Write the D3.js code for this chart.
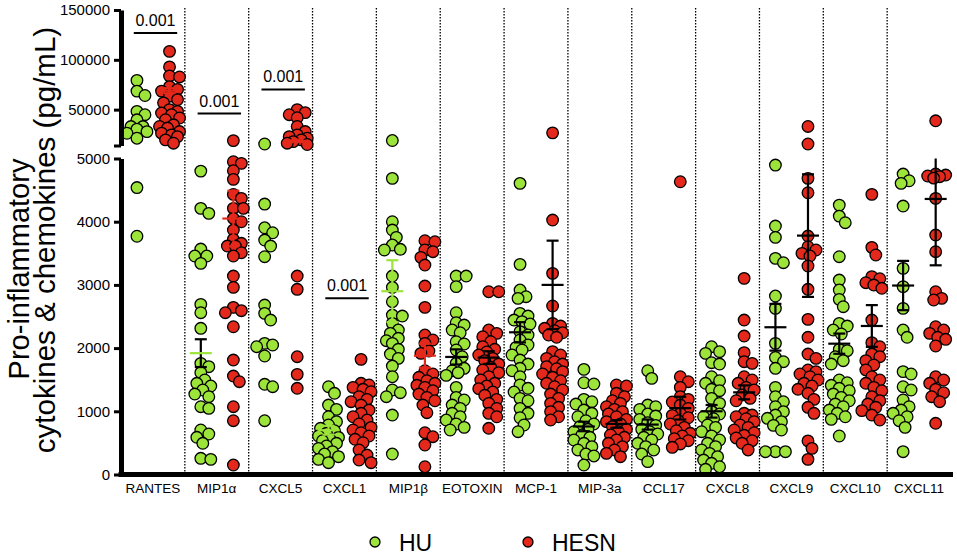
<!DOCTYPE html>
<html>
<head>
<meta charset="utf-8">
<script src="https://cdn.jsdelivr.net/npm/d3@7"></script>
<style>
  body { margin: 0; background: #fff; }
  text { font-family: "Liberation Sans", Arial, sans-serif; fill: #000; }
</style>
</head>
<body>
<div id="chart"></div>
<script>
// cytokine panels, left to right
const cytokines = ["RANTES", "MIP1α", "CXCL5", "CXCL1", "MIP1β", "EOTOXIN", "MCP-1",
                   "MIP-3a", "CCL17", "CXCL8", "CXCL9", "CXCL10", "CXCL11"];

// HU group, pg/mL
const huValues = [
  [79400, 68600, 64200, 48300, 44900, 39800, 33000, 33000, 30400, 27900, 26300, 21300, 4540, 3770],
  [4801, 4211, 4132, 3567, 3457, 3457, 3341, 2692, 2560, 2313, 1759, 1706, 1611, 1495, 1443, 1400, 1337, 1273, 1231, 1073, 1047, 704, 641, 589, 494, 240, 256],
  [15500, 4279, 3904, 3825, 3710, 3615, 3446, 2681, 2550, 2444, 2075, 2049, 2022, 1875, 1427, 1389, 851],
  [1389, 1285, 1099, 1031, 914, 836, 783, 731, 693, 652, 609, 589, 546, 535, 494, 451, 414, 361, 324, 282, 240, 187],
  [19000, 4686, 3999, 3868, 3752, 3631, 3563, 3552, 3140, 2961, 2734, 2523, 2507, 2392, 2286, 2233, 2155, 2117, 2075, 1981, 1906, 1838, 1716, 1547, 1337, 1294, 1231, 941, 324],
  [3140, 3140, 2972, 2560, 2402, 2365, 2286, 2243, 2101, 2065, 1970, 1864, 1759, 1680, 1642, 1611, 1569, 1379, 1221, 1179, 1099, 1047, 968, 914, 862, 799, 746, 704],
  [4607, 3325, 2919, 2813, 2787, 2550, 2507, 2444, 2418, 2381, 2260, 2207, 2128, 2049, 2012, 1970, 1891, 1811, 1748, 1680, 1642, 1547, 1416, 1364, 1305, 1205, 1167, 1047, 968, 898, 783, 677],
  [1663, 1452, 1432, 1189, 1152, 1115, 1020, 968, 914, 851, 799, 757, 715, 677, 625, 589, 546, 494, 441, 388, 324, 293, 150],
  [1642, 1521, 1099, 1073, 1031, 957, 925, 873, 820, 778, 715, 677, 641, 589, 546, 494, 441, 388, 324, 203],
  [2022, 1944, 1917, 1769, 1748, 1547, 1484, 1443, 1348, 1326, 1205, 1126, 994, 957, 914, 883, 783, 746, 677, 609, 546, 494, 441, 388, 335, 282, 229, 177, 123, 82],
  [4896, 3931, 3752, 3420, 3351, 2824, 2629, 2075, 1854, 1785, 1680, 1379, 1231, 1152, 1073, 994, 941, 889, 836, 778, 704, 361, 361, 361],
  [4263, 4089, 3984, 3446, 3077, 2919, 2771, 2655, 2392, 2349, 2286, 2223, 1981, 1959, 1864, 1801, 1748, 1495, 1452, 1411, 1364, 1326, 1273, 1221, 1167, 1115, 1073, 1020, 968, 914, 873, 609],
  [4754, 4648, 4607, 4248, 3262, 2972, 2629, 2286, 2171, 1627, 1590, 1389, 1337, 1179, 1073, 1020, 968, 914, 851, 746, 361]
];

// HESN group, pg/mL
const hesnValues = [
  [108500, 92900, 83800, 82800, 73100, 70300, 68600, 63500, 60100, 56800, 50000, 48300, 46600, 44900, 41600, 39900, 34800, 33100, 31500, 28000, 26400, 24700, 22900, 19600, 16300],
  [18900, 4949, 4923, 4806, 4670, 4432, 4369, 4211, 4211, 4053, 3999, 3868, 3721, 3658, 3615, 3615, 3509, 3457, 3140, 2961, 2645, 2592, 2560, 2338, 1811, 1558, 1468, 1073, 851, 150],
  [50000, 47000, 44900, 41900, 33100, 28000, 24700, 22900, 21300, 19600, 17900, 16300, 15000, 3140, 2930, 1864, 1585, 1364],
  [1822, 1443, 1416, 1379, 1348, 1310, 1231, 1189, 1152, 1099, 1020, 968, 914, 862, 799, 746, 704, 661, 609, 557, 503, 388, 308, 229, 187],
  [3699, 3683, 3552, 3525, 3436, 3314, 2982, 2645, 2207, 2128, 2075, 1954, 1917, 1642, 1590, 1538, 1484, 1443, 1411, 1379, 1326, 1273, 1221, 1167, 1099, 978, 661, 598, 467, 123],
  [2892, 2892, 2286, 2233, 2180, 2101, 2022, 1981, 1939, 1891, 1838, 1801, 1748, 1696, 1654, 1611, 1547, 1495, 1443, 1400, 1358, 1305, 1253, 1189, 1126, 1047, 968, 914, 731],
  [26700, 4026, 3183, 2666, 2392, 2349, 2313, 2275, 2243, 2207, 2171, 1944, 1891, 1838, 1785, 1748, 1706, 1674, 1627, 1590, 1538, 1484, 1443, 1389, 1337, 1273, 1205, 1126, 1063, 994, 914, 862],
  [1416, 1400, 1285, 1231, 1167, 1126, 1073, 1031, 994, 957, 914, 873, 836, 799, 757, 715, 677, 625, 589, 546, 494, 441, 388, 335, 282],
  [4632, 1547, 1468, 1379, 1231, 1189, 1147, 1099, 1047, 968, 936, 898, 851, 799, 746, 693, 652, 609, 567, 535, 483, 430],
  [3104, 2444, 2191, 1928, 1785, 1759, 1547, 1495, 1443, 1379, 1337, 1258, 1205, 1167, 968, 941, 914, 883, 836, 783, 746, 704, 661, 620, 578, 535, 494, 388],
  [33100, 15500, 4686, 4458, 3773, 3604, 3552, 3499, 3457, 3299, 2930, 2455, 2171, 1906, 1838, 1654, 1627, 1590, 1547, 1495, 1443, 1400, 1348, 1285, 1189, 1063, 968, 532, 414, 240],
  [4433, 3594, 3473, 3130, 3098, 3035, 2998, 2946, 2444, 2086, 2022, 1906, 1864, 1801, 1733, 1654, 1547, 1495, 1443, 1379, 1326, 1231, 1167, 1115, 1063, 1010, 941, 862],
  [38800, 4754, 4738, 4723, 4712, 4690, 4369, 3789, 3525, 2892, 2787, 2761, 2338, 2286, 2233, 2171, 2139, 2033, 1547, 1495, 1443, 1348, 1294, 1231, 1152, 810]
];

// mean and SEM per panel (null where the figure shows none)
const huMean   = [null, 1920, null, 700, 2900, 1860, 2250, 760, 790, 1000, 2330, 2070, 2990];
const huSem    = [null, 220, null, 70, 490, 120, 160, 75, 80, 100, 370, 160, 390];
const hesnMean = [69000, 4050, 18600, null, 1880, 1850, 3000, 800, 1050, 1300, 3780, 2350, 4360];
const hesnSem  = [2500, 440, 1200, null, 190, 100, 700, 60, 180, 110, 970, 330, 1050];

// p-value annotations
const sigPanels = ["RANTES", "MIP1α", "CXCL5", "CXCL1"];
const sigLabels = ["0.001", "0.001", "0.001", "0.001"];
const sigLevels = [127000, 46000, 70300, 2790];

const lowTicks = [0, 1000, 2000, 3000, 4000, 5000];
const highTicks = [14000, 50000, 100000, 150000];

const groups = ["HU", "HESN"];
const colors = { HU: "#9de43a", HESN: "#e4281b" };

const W = 957, H = 555, r = 5.8;

const svg = d3.select("#chart").append("svg")
  .attr("width", W).attr("height", H);

const x = d3.scaleBand().domain(cytokines).range([121, 951]);
const bw = x.bandwidth();

// broken y axis: two linear pieces
const yLow = d3.scaleLinear().domain([0, 5000]).range([474.5, 158.5]);
const yHigh = d3.scaleLinear().domain([14000, 150000]).range([145.5, 10]);
const y = v => v > 5000 ? yHigh(Math.max(v, 14000)) : yLow(v);

// dotted separators
svg.append("g").selectAll("line")
  .data(cytokines.slice(1))
  .join("line")
    .attr("x1", d => x(d)).attr("x2", d => x(d))
    .attr("y1", 8).attr("y2", 472)
    .attr("stroke", "#000")
    .attr("stroke-width", 1.3)
    .attr("stroke-dasharray", "1.4,1.6");

// compact beeswarm, dots may overlap a little like the original
function swarm(values, cx) {
  const pts = values.map(v => ({ v, y: y(v) })).sort((a, b) => a.y - b.y);
  const placed = [];
  const minD = 2 * r - 3.5, step = 2, maxOff = 10;
  const offs = [0];
  for (let k = step; k <= maxOff; k += step) offs.push(k, -k);
  pts.forEach(p => {
    let best = null, bestD = -1;
    for (const o of offs) {
      let md = Infinity;
      for (const q of placed) {
        if (Math.abs(q.y - p.y) > 2 * r) continue;
        md = Math.min(md, Math.hypot(q.x - (cx + o), q.y - p.y));
      }
      if (md >= minD) { best = o; bestD = md; break; }
      if (md > bestD) { bestD = md; best = o; }
    }
    p.x = cx + best;
    placed.push(p);
  });
  return pts;
}

const dots = svg.append("g");
const bars = svg.append("g");

cytokines.forEach((c, i) => {
  const series = [
    { g: "HU", vals: huValues[i], mean: huMean[i], sem: huSem[i], cx: x(c) + bw * 0.25 },
    { g: "HESN", vals: hesnValues[i], mean: hesnMean[i], sem: hesnSem[i], cx: x(c) + bw * 0.76 }
  ];
  series.forEach(s => {
    dots.append("g").selectAll("circle")
      .data(swarm(s.vals, s.cx))
      .join("circle")
        .attr("cx", d => d.x)
        .attr("cy", d => d.y)
        .attr("r", r)
        .attr("fill", colors[s.g])
        .attr("stroke", "#000")
        .attr("stroke-width", 1.3);

    if (s.mean == null) return;
    // mean +/- SEM, clipped to the axis segment the mean sits in
    const hi = s.mean > 5000;
    const lo = hi ? 14000 : 0, top = hi ? 150000 : 5000;
    const a = Math.max(lo, s.mean - s.sem), b = Math.min(top, s.mean + s.sem);
    const col = i < 5 ? colors[s.g] : "#000";
    const whisker = i === 1 && s.g === "HU" ? "#000" : col;
    const bg = bars.append("g").attr("stroke-width", 2.2);
    bg.append("line")
      .attr("x1", s.cx).attr("x2", s.cx)
      .attr("y1", y(a)).attr("y2", y(b))
      .attr("stroke", whisker);
    [[a, s.mean - s.sem >= lo], [b, s.mean + s.sem <= top]].forEach(([v, cap]) => {
      if (!cap) return;
      bg.append("line")
        .attr("x1", s.cx - 6).attr("x2", s.cx + 6)
        .attr("y1", y(v)).attr("y2", y(v))
        .attr("stroke", whisker);
    });
    bg.append("line")
      .attr("x1", s.cx - 11).attr("x2", s.cx + 11)
      .attr("y1", y(s.mean)).attr("y2", y(s.mean))
      .attr("stroke", col);
  });
});

// significance bars
sigPanels.forEach((c, i) => {
  const x0 = x(c) + bw * 0.2, x1 = x(c) + bw * 0.88;
  svg.append("line")
    .attr("x1", x0).attr("x2", x1)
    .attr("y1", y(sigLevels[i])).attr("y2", y(sigLevels[i]))
    .attr("stroke", "#000").attr("stroke-width", 2);
  svg.append("text")
    .attr("x", (x0 + x1) / 2)
    .attr("y", y(sigLevels[i]) - 7)
    .attr("text-anchor", "middle")
    .style("font-size", "16px")
    .text(sigLabels[i]);
});

// y axes (two segments)
function styleAxis(g) {
  g.select(".domain").attr("stroke-width", 5);
  g.selectAll(".tick line").attr("stroke-width", 3);
  g.selectAll(".tick text").style("font-size", "15px")
    .style("font-family", "'Liberation Sans', Arial, sans-serif");
}
svg.append("g")
  .attr("transform", "translate(121,0)")
  .call(d3.axisLeft(yLow).tickValues(lowTicks).tickSize(7).tickSizeOuter(0).tickPadding(4).tickFormat(d3.format("d")))
  .call(styleAxis);
svg.append("g")
  .attr("transform", "translate(121,0)")
  .call(d3.axisLeft(yHigh).tickValues(highTicks).tickSize(7).tickSizeOuter(0).tickPadding(4)
    .tickFormat(d => d === 14000 ? "" : d3.format("d")(d)))
  .call(styleAxis);

// x axis
const xa = svg.append("g")
  .attr("transform", "translate(0,474.5)")
  .call(d3.axisBottom(x).tickSize(0).tickPadding(9));
xa.select(".domain").attr("d", "M118.5,0H953").attr("stroke-width", 5);
xa.selectAll(".tick text").style("font-size", "13.5px")
  .style("font-family", "'Liberation Sans', Arial, sans-serif");

// y title, two lines
const titleLines = ["Pro-inflammatory", "cytokines & chemokines (pg/mL)"];
svg.append("text")
  .attr("transform", "translate(29,269) rotate(-90)")
  .attr("text-anchor", "middle")
  .style("font-size", "29px")
  .text(titleLines[0]);
svg.append("text")
  .attr("transform", "translate(55,240) rotate(-90)")
  .attr("text-anchor", "middle")
  .style("font-size", "29.5px")
  .text(titleLines[1]);

// legend
const legendX = [375, 528];
const legend = svg.selectAll(".legend")
  .data(groups)
  .join("g")
    .attr("class", "legend")
    .attr("transform", (d, i) => `translate(${legendX[i]},542)`);
legend.append("circle")
  .attr("r", 5)
  .attr("fill", d => colors[d])
  .attr("stroke", "#000")
  .attr("stroke-width", 1.3);
legend.append("text")
  .attr("x", 24)
  .attr("y", 8.5)
  .style("font-size", "23px")
  .text(d => d);
</script>
</body>
</html>
